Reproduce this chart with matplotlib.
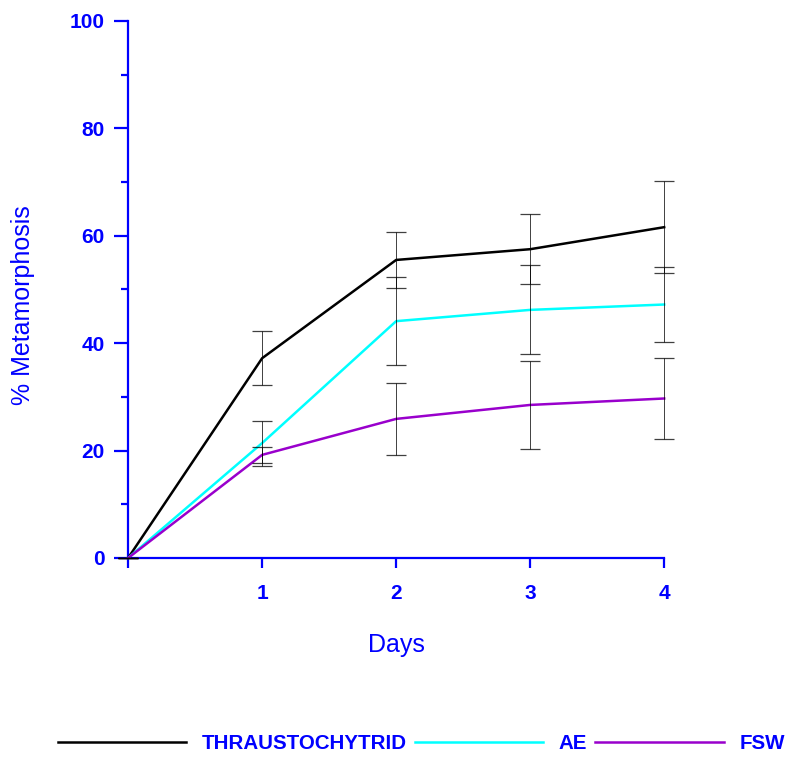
import matplotlib.pyplot as plt
from matplotlib.ticker import MultipleLocator

days = [0, 1, 2, 3, 4]

thrausto = [0, 37.2, 55.5, 57.5, 61.6]
thrausto_err = [0, 5.0, 5.2, 6.5, 8.6]

ae = [0, 21.4, 44.1, 46.2, 47.2]
ae_err = [0, 4.2, 8.2, 8.3, 6.9]

fsw = [0, 19.2, 25.9, 28.5, 29.7]
fsw_err = [0, 1.5, 6.7, 8.2, 7.5]

plt.rcParams['font.family'] = ['Liberation Sans', 'DejaVu Sans']

fig = plt.figure(figsize=(7.86, 7.57), dpi=100)
ax = fig.add_axes([0.163, 0.2629, 0.682, 0.7094])

series = [
    (thrausto, thrausto_err, 'black', 'THRAUSTOCHYTRID'),
    (ae, ae_err, '#00FFFF', 'AE'),
    (fsw, fsw_err, '#9900CC', 'FSW'),
]

# lines first, error bars on top in thin black
for vals, errs, color, label in series:
    ax.plot(days, vals, color=color, lw=1.8, label=label, zorder=3,
            clip_on=False)
for vals, errs, color, label in series:
    eb = ax.errorbar(days, vals, yerr=errs, fmt='none', ecolor='black',
                     elinewidth=0.7, capsize=7, capthick=0.9, alpha=0.75,
                     zorder=4)
    for art in eb.lines[1] + eb.lines[2]:
        art.set_clip_on(False)

ax.set_xlim(0, 4)
ax.set_ylim(0, 100)
ax.set_xticks([0, 1, 2, 3, 4])
ax.set_xticklabels(['', '1', '2', '3', '4'])
ax.set_yticks([0, 20, 40, 60, 80, 100])
ax.yaxis.set_minor_locator(MultipleLocator(10))

for side in ['top', 'right']:
    ax.spines[side].set_visible(False)
for side in ['left', 'bottom']:
    ax.spines[side].set_color('blue')
    ax.spines[side].set_linewidth(1.6)

ax.tick_params(axis='y', which='major', length=10, width=1.6, color='blue',
               labelcolor='blue', labelsize=15, pad=7)
ax.tick_params(axis='y', which='minor', length=5, width=1.6, color='blue')
ax.tick_params(axis='x', which='major', length=7, width=1.6, color='blue',
               labelcolor='blue', labelsize=15, pad=12)
for lbl in ax.get_xticklabels() + ax.get_yticklabels():
    lbl.set_fontweight('bold')

ax.set_xlabel('Days', color='blue', fontsize=18)
ax.set_ylabel('% Metamorphosis', color='blue', fontsize=18)
ax.xaxis.set_label_coords(0.5, -0.14)
ax.yaxis.set_label_coords(-0.174, 0.471)

leg = fig.legend(loc='center', bbox_to_anchor=(0.536, 0.018), ncol=3,
                 frameon=False, handlelength=6.25, handletextpad=0.75,
                 columnspacing=0.4, prop={'weight': 'bold', 'size': 14.8},
                 labelcolor='blue')

fig.savefig('out.png', dpi=100)
